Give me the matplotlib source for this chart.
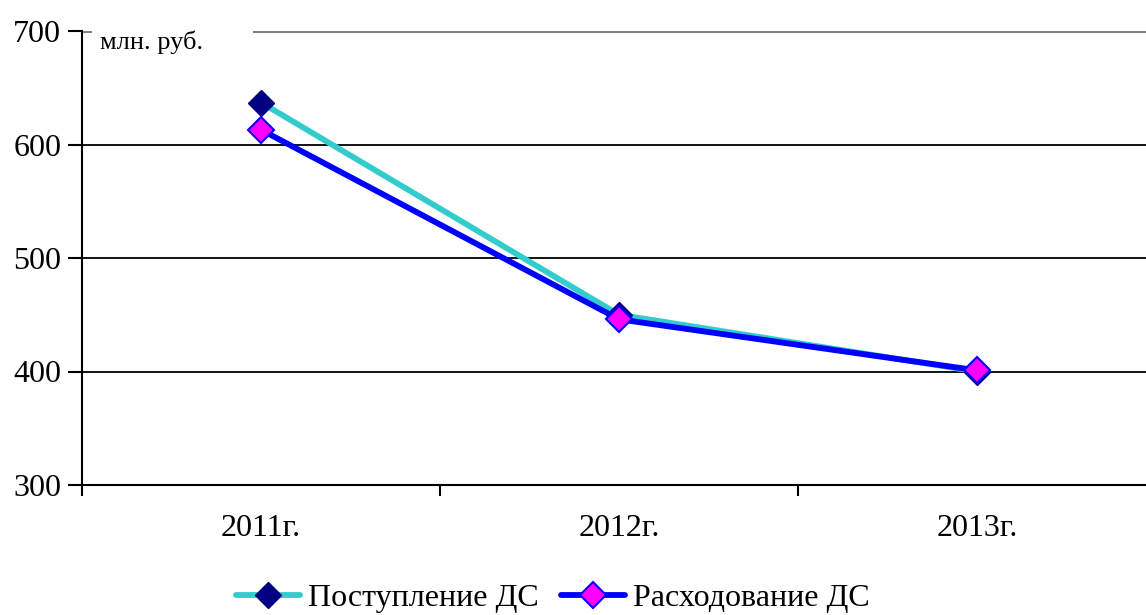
import matplotlib
matplotlib.use("Agg")
import matplotlib.pyplot as plt

categories = ["2011г.", "2012г.", "2013г."]
receipts = [637, 450, 400]      # Поступление ДС
spending = [613, 446, 401]      # Расходование ДС
yticks = [300, 400, 500, 600, 700]

plt.rcParams['font.family'] = ['Liberation Serif', 'DejaVu Serif']

fig = plt.figure(figsize=(11.46, 6.15), dpi=100)
ax = fig.add_axes([82/1146, (615-485)/615, (1156-82)/1146, (485-31)/615])

x = list(range(len(categories)))
ax.plot(x, receipts, color='#33CCCC', lw=4.2, marker='D', ms=13.5,
        mfc='#000080', mec='#000080', mew=1.0, label='Поступление ДС',
        solid_capstyle='round')
ax.plot(x, spending, color='#0000FF', lw=4.2, marker='D', ms=13.5,
        mfc='#FF00FF', mec='#0000FF', mew=1.5, label='Расходование ДС',
        solid_capstyle='round')

ax.set_xlim(-0.5, 2.5)
ax.set_ylim(300, 700)
ax.set_yticks(yticks)
ax.set_yticklabels([str(v) for v in yticks], fontsize=23)
ax.set_xticks([-0.5, 0.5, 1.5, 2.5])
ax.set_xticklabels([])
ax.set_xticks(x, labels=categories, minor=True)
ax.tick_params(axis='x', which='minor', length=0, pad=21, labelsize=23)
ax.tick_params(axis='x', which='major', length=8, width=1.5, direction='out')
ax.tick_params(axis='y', length=10, width=1.5, direction='out', pad=5)

for s in ['top', 'right']:
    ax.spines[s].set_visible(False)
ax.spines['left'].set_linewidth(1.5)
ax.spines['bottom'].set_linewidth(1.5)

ax.yaxis.grid(True, color='black', lw=1.3)
ax.set_axisbelow(True)
gl = ax.yaxis.get_gridlines()
gl[-1].set_color('#808080')
gl[-1].set_linewidth(2.2)

ax.text(0.017, 700, 'млн. руб.', transform=ax.get_yaxis_transform(),
        fontsize=19, va='top', ha='left')
ax.add_patch(plt.Rectangle((0.0095, 690), 0.1495, 14, transform=ax.get_yaxis_transform(),
                           facecolor='white', edgecolor='none', zorder=2.5, clip_on=False))

fig.legend(loc='center', bbox_to_anchor=(553/1146, 17/615), ncol=2,
           frameon=False, fontsize=23, handlelength=2.0, handletextpad=0.25,
           columnspacing=0.7, borderaxespad=0)

fig.savefig('out.png', dpi=100)
